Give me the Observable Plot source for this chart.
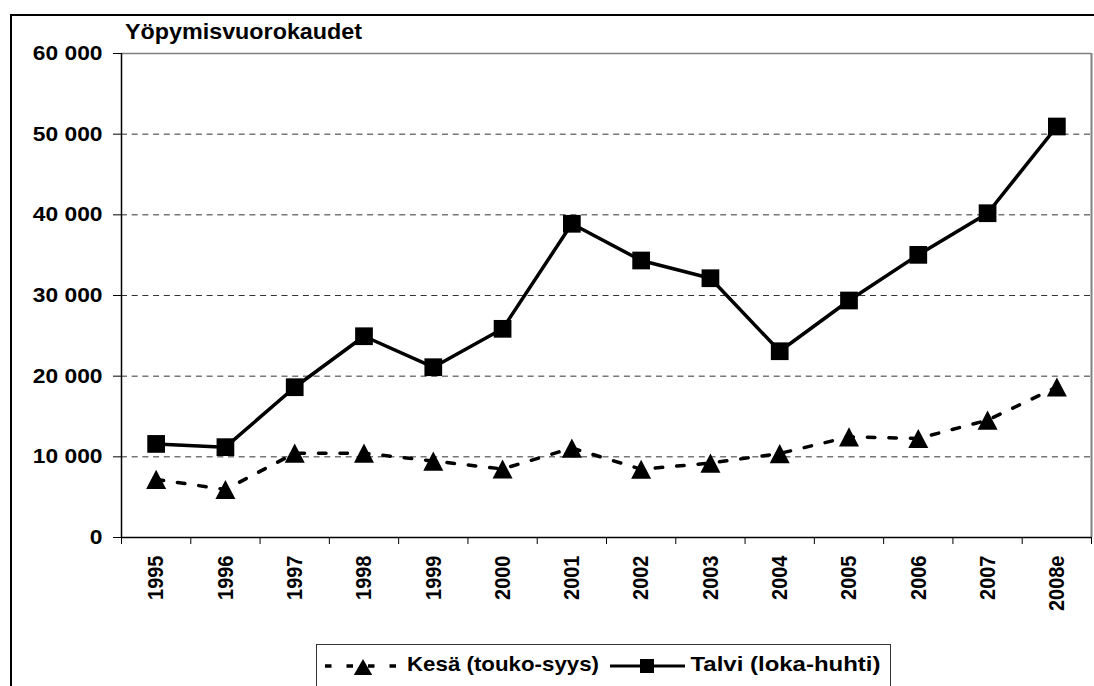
<!DOCTYPE html>
<html>
<head>
<meta charset="utf-8">
<script src="https://cdn.jsdelivr.net/npm/d3@7"></script>
<script src="https://cdn.jsdelivr.net/npm/@observablehq/plot@0.6"></script>
<style>
  html, body { margin: 0; padding: 0; background: #fff; }
  body { width: 1094px; height: 686px; overflow: hidden; position: relative;
         font-family: "Liberation Sans", Arial, sans-serif; }
  #chart { position: absolute; left: 0; top: 0; }
  #overlay { position: absolute; left: 0; top: 0; pointer-events: none; }
</style>
</head>
<body>
<div id="chart"></div>
<script>
// ---- data ----
const years = ["1995","1996","1997","1998","1999","2000","2001","2002","2003","2004","2005","2006","2007","2008e"];
const kesa  = [7200, 5950, 10450, 10450, 9480, 8490, 11090, 8460, 9230, 10410, 12480, 12270, 14540, 18660];
const talvi = [11600, 11200, 18630, 24950, 21110, 25870, 38890, 34340, 32140, 23090, 29380, 35040, 40200, 50950];
const yTicks = [0, 10000, 20000, 30000, 40000, 50000, 60000];
const seriesNames = ["Kesä (touko-syys)", "Talvi (loka-huhti)"];
const titleText = "Yöpymisvuorokaudet";

const toRows = vals => years.map((year, i) => ({ year, pos: i + 0.5, value: vals[i] }));
const kesaRows = toRows(kesa);
const talviRows = toRows(talvi);
const fmt = d => d3.format(",")(d).replace(/,/g, " ");

// triangle marker centred on its bounding box (as in the reference)
const makeTriangle = (hw, hh) => ({
  draw(ctx) { ctx.moveTo(0, -hh); ctx.lineTo(hw, hh); ctx.lineTo(-hw, hh); ctx.closePath(); }
});
const triBig = makeTriangle(10, 9.6);
const triSmall = makeTriangle(9.2, 8);

const W = 1094, H = 686;

const chart = Plot.plot({
  width: W,
  height: H,
  marginLeft: 121,
  marginRight: 3,
  marginTop: 53,
  marginBottom: 149,
  style: { fontFamily: "'Liberation Sans', Arial, sans-serif", fontWeight: "bold", fontSize: "20px", color: "#000", background: "transparent", overflow: "visible" },
  x: { domain: [0, years.length] },
  y: { domain: [0, 60000] },
  marks: [
    Plot.ruleY(yTicks.filter(v => v > 0 && v < 60000), { stroke: "#333", strokeWidth: 1, strokeDasharray: "6,4.7" }),
    Plot.ruleY([60000], { stroke: "#808080", strokeWidth: 1.5 }),
    Plot.ruleX([years.length], { stroke: "#808080", strokeWidth: 2 }),
    Plot.ruleX([0], { stroke: "#000", strokeWidth: 1.5 }),
    Plot.ruleY([0], { stroke: "#000", strokeWidth: 1.5 }),
    Plot.axisY({ ticks: yTicks, tickSize: 8, tickPadding: 11, tickFormat: fmt, label: null, fontSize: 20, fontWeight: "bold" }),
    Plot.axisX({ ticks: d3.range(0, years.length + 1), tickSize: 7, tickFormat: () => "", label: null }),
    Plot.axisX({ ticks: years.map((y, i) => i + 0.5), tickSize: 0, tickPadding: 18, tickRotate: -90,
                 tickFormat: p => years[Math.floor(p)], label: null, fontSize: 20, fontWeight: "bold" }),
    Plot.line(kesaRows, { x: "pos", y: "value", stroke: "#000", strokeWidth: 3.5, strokeDasharray: "7.5,14" }),
    Plot.dot(kesaRows, { x: "pos", y: "value", symbol: triBig, r: 8, fill: "#000", stroke: "none" }),
    Plot.line(talviRows, { x: "pos", y: "value", stroke: "#000", strokeWidth: 3.5 }),
    Plot.dot(talviRows, { x: "pos", y: "value", symbol: "square", r: 10, fill: "#000", stroke: "none" })
  ]
});
document.getElementById("chart").append(chart);

// stretch axis text horizontally like the reference rendering
const sx = 1.14;
d3.select(chart).selectAll('g[aria-label="y-axis tick label"] text').each(function () {
  const t = this.getAttribute("transform") || "";
  this.setAttribute("transform", t + ` scale(${sx},1)`);
});
d3.select(chart).selectAll('g[aria-label="x-axis tick label"] text').each(function () {
  const t = this.getAttribute("transform") || "";
  if (/rotate/.test(t)) this.setAttribute("transform", t + ` scale(1,${sx})`);
});

// ---- overlay: outer frame, title, legend ----
const ov = d3.create("svg").attr("id", "overlay").attr("width", W).attr("height", H)
  .style("font-family", "'Liberation Sans', Arial, sans-serif").style("font-weight", "bold");
ov.append("line").attr("x1", 11).attr("x2", 11).attr("y1", 14).attr("y2", H).attr("stroke", "#000").attr("stroke-width", 2);
ov.append("line").attr("x1", 10).attr("x2", W).attr("y1", 15).attr("y2", 15).attr("stroke", "#000").attr("stroke-width", 2);

ov.append("text").attr("x", 125).attr("y", 39).attr("font-size", 22)
  .attr("textLength", 237).attr("lengthAdjust", "spacingAndGlyphs").text(titleText);

const lg = ov.append("g");
lg.append("rect").attr("x", 316.5).attr("y", 644.5).attr("width", 574).attr("height", 60)
  .attr("fill", "#fff").attr("stroke", "#333").attr("stroke-width", 1);
const ly = 666;
const symPath = sym => { const p = d3.path(); sym.draw(p); return p.toString(); };
// Kesä sample
lg.append("line").attr("x1", 325).attr("x2", 401).attr("y1", ly).attr("y2", ly)
  .attr("stroke", "#000").attr("stroke-width", 3.5).attr("stroke-dasharray", "6.5,15");
lg.append("path").attr("d", symPath(triSmall)).attr("transform", `translate(363,${ly + 1})`).attr("fill", "#000");
lg.append("text").attr("x", 407).attr("y", 670.5).attr("font-size", 21)
  .attr("textLength", 192).attr("lengthAdjust", "spacingAndGlyphs").text(seriesNames[0]);
// Talvi sample
lg.append("line").attr("x1", 610).attr("x2", 685).attr("y1", ly).attr("y2", ly)
  .attr("stroke", "#000").attr("stroke-width", 3);
lg.append("path").attr("d", d3.symbol(d3.symbolSquare, 196)()).attr("transform", `translate(647,${ly})`).attr("fill", "#000");
lg.append("text").attr("x", 690.5).attr("y", 670.5).attr("font-size", 21)
  .attr("textLength", 190).attr("lengthAdjust", "spacingAndGlyphs").text(seriesNames[1]);

document.body.append(ov.node());
</script>
</body>
</html>
